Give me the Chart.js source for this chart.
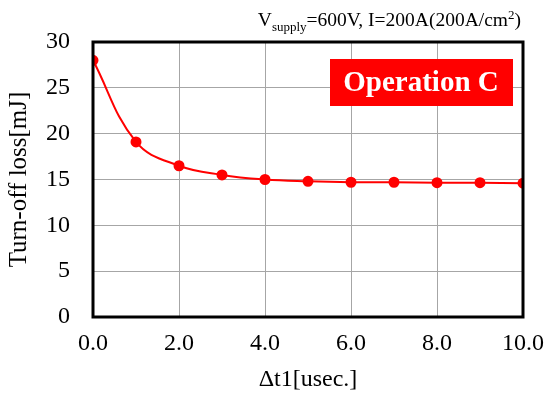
<!DOCTYPE html>
<html>
<head>
<meta charset="utf-8">
<script src="https://cdn.jsdelivr.net/npm/chart.js@4.4.1/dist/chart.umd.min.js"></script>
<style>
  html, body { margin: 0; padding: 0; background: #fff; }
  #wrap { width: 550px; height: 401px; position: relative; }
</style>
</head>
<body>
<div id="wrap"><canvas id="c"></canvas></div>
<script>
// Turn-off loss vs. delta t1, Operation C
const dt1 = [0, 1, 2, 3, 4, 5, 6, 7, 8, 9, 10];
const turnOffLoss = [28.0, 19.1, 16.5, 15.5, 15.0, 14.8, 14.7, 14.7, 14.65, 14.65, 14.6];
const xTicks = [0, 2, 4, 6, 8, 10];
const yTicks = [0, 5, 10, 15, 20, 25, 30];

const FONT = '"Liberation Serif", "Times New Roman", serif';

// black frame, condition text and the red "Operation C" badge
const decor = {
  id: 'decor',
  afterDraw(chart) {
    const { ctx, chartArea: a } = chart;
    ctx.save();
    ctx.strokeStyle = '#000';
    ctx.lineWidth = 3;
    ctx.strokeRect(a.left, a.top, a.right - a.left, a.bottom - a.top);

    // condition text, right aligned above plot
    ctx.fillStyle = '#000';
    ctx.textBaseline = 'alphabetic';
    ctx.textAlign = 'left';
    const parts = [
      { t: 'V', f: '19.5px ' + FONT, dy: 0 },
      { t: 'supply', f: '13px ' + FONT, dy: 5 },
      { t: '=600V, I=200A(200A/cm', f: '19.5px ' + FONT, dy: 0 },
      { t: '2', f: '13px ' + FONT, dy: -7 },
      { t: ')', f: '19.5px ' + FONT, dy: 0 },
    ];
    let w = 0;
    parts.forEach(p => { ctx.font = p.f; p.w = ctx.measureText(p.t).width; w += p.w; });
    let x = 521 - w;
    const base = 26;
    parts.forEach(p => { ctx.font = p.f; ctx.fillText(p.t, x, base + p.dy); x += p.w; });

    // badge
    ctx.fillStyle = '#ff0000';
    ctx.fillRect(330, 59, 183, 47);
    ctx.fillStyle = '#fff';
    ctx.font = 'bold 29px ' + FONT;
    ctx.textAlign = 'center';
    ctx.textBaseline = 'middle';
    ctx.fillText('Operation C', 421, 84);
    ctx.restore();
  }
};

new Chart(document.getElementById('c'), {
  type: 'line',
  data: {
    labels: dt1,
    datasets: [{
      data: dt1.map((x, i) => ({ x, y: turnOffLoss[i] })),
      borderColor: '#ff0000',
      backgroundColor: '#ff0000',
      borderWidth: 2,
      pointRadius: 4.5,
      pointHoverRadius: 4.5,
      tension: 0.4,
      fill: false,
    }]
  },
  options: {
    responsive: true,
    maintainAspectRatio: false,
    animation: false,
    devicePixelRatio: 1,
    layout: { padding: { left: 0, right: 27, top: 42, bottom: 0 } },
    plugins: { legend: { display: false }, tooltip: { enabled: false } },
    scales: {
      x: {
        type: 'linear', min: 0, max: 10,
        afterFit: (s) => { s.height = 84; s.paddingLeft = 0; s.paddingRight = 0; },
        afterBuildTicks: (s) => { s.ticks = xTicks.map(v => ({ value: v })); },
        grid: { color: '#a6a6a6', lineWidth: 1, drawTicks: false },
        border: { display: false },
        ticks: {
          color: '#000', padding: 12, maxRotation: 0,
          font: { family: FONT, size: 24 },
          callback: (v) => Number(v).toFixed(1),
        },
        title: {
          display: true, text: 'Δt1[usec.]', color: '#000',
          font: { family: FONT, size: 24 }, padding: { top: 2, bottom: 7 },
        },
      },
      y: {
        min: 0, max: 30,
        afterFit: (s) => { s.width = 93; s.paddingTop = 0; s.paddingBottom = 0; },
        afterBuildTicks: (s) => { s.ticks = yTicks.map(v => ({ value: v })); },
        grid: { color: '#a6a6a6', lineWidth: 1, drawTicks: false },
        border: { display: false },
        ticks: {
          color: '#000', padding: 23,
          font: { family: FONT, size: 24 },
        },
        title: {
          display: true, text: 'Turn-off loss[mJ]', color: '#000',
          font: { family: FONT, size: 25 }, padding: { top: 4, bottom: 0 },
        },
      },
    },
  },
  plugins: [decor],
});
</script>
</body>
</html>
